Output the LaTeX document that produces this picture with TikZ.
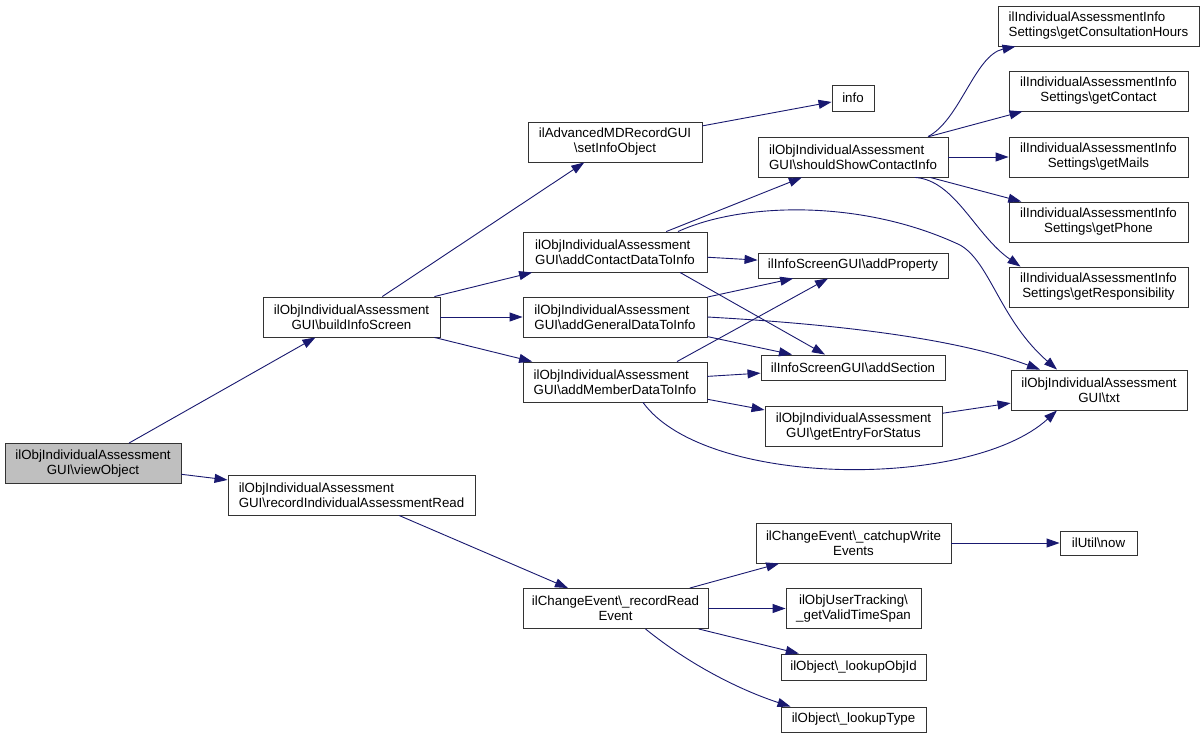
\documentclass[tikz,border=0pt]{standalone}
\usepackage{fontspec}
\setmainfont{Liberation Sans}
\usetikzlibrary{arrows.meta}
\definecolor{edgeblue}{RGB}{25,25,112}
\definecolor{curgray}{RGB}{191,191,191}
\newcommand{\bs}{\textbackslash}
\begin{document}
\begin{tikzpicture}[x=1pt,y=-1pt,
  fn/.style={draw=black!80, line width=0.9pt, fill=white, inner sep=0pt, minimum height=40,
    font=\fontsize{13.3}{15}\selectfont, align=center},
  fnl/.style={fn, align=left},
  fnone/.style={fn, minimum height=25},
  call/.style={draw=edgeblue, line width=0.9pt, -{Triangle[length=13pt,width=9pt]}}]
\path[use as bounding box, fill=white] (0,0) rectangle (1204,737);
% callers
\node[fn, fill=curgray, minimum width=176] (vo) at (93,463.5) {ilObjIndividualAssessment\\GUI\bs viewObject};
\node[fn, minimum width=177] (bis) at (351.5,317) {ilObjIndividualAssessment\\GUI\bs buildInfoScreen};
\node[fnl, minimum width=247] (rar) at (351.5,495) {ilObjIndividualAssessment\\GUI\bs recordIndividualAssessmentRead};
% third column
\node[fn, minimum width=174] (sio) at (615,142) {ilAdvancedMDRecordGUI\\\bs setInfoObject};
\node[fnl, minimum width=184] (acd) at (615,252) {ilObjIndividualAssessment\\GUI\bs addContactDataToInfo};
\node[fnl, minimum width=184] (agd) at (615,317) {ilObjIndividualAssessment\\GUI\bs addGeneralDataToInfo};
\node[fnl, minimum width=184] (amd) at (615,382) {ilObjIndividualAssessment\\GUI\bs addMemberDataToInfo};
\node[fn, minimum width=185] (rre) at (615.5,608.5) {ilChangeEvent\bs\_recordRead\\Event};
% fourth column
\node[fnone, minimum width=42, minimum height=26] (info) at (853,98) {info};
\node[fnl, minimum width=190] (ssci) at (853,157) {ilObjIndividualAssessment\\GUI\bs shouldShowContactInfo};
\node[fnone, minimum width=190] (aprop) at (853,265.5) {ilInfoScreenGUI\bs addProperty};
\node[fnone, minimum width=184] (asec) at (853,367.5) {ilInfoScreenGUI\bs addSection};
\node[fn, minimum width=177] (gefs) at (853.5,426.5) {ilObjIndividualAssessment\\GUI\bs getEntryForStatus};
\node[fn, minimum width=195] (cwe) at (853.5,543) {ilChangeEvent\bs\_catchupWrite\\Events};
\node[fn, minimum width=135] (gvts) at (853.5,608.5) {ilObjUserTracking\bs\\\_getValidTimeSpan};
\node[fnone, minimum width=145, minimum height=26] (loid) at (853.5,667) {ilObject\bs\_lookupObjId};
\node[fnone, minimum width=145] (lty) at (853.5,719.5) {ilObject\bs\_lookupType};
% last column
\node[fnl, minimum width=201] (gch) at (1098.5,26) {ilIndividualAssessmentInfo\\Settings\bs getConsultationHours};
\node[fn, minimum width=179] (gct) at (1098.5,91) {ilIndividualAssessmentInfo\\Settings\bs getContact};
\node[fn, minimum width=179] (gml) at (1098.5,157) {ilIndividualAssessmentInfo\\Settings\bs getMails};
\node[fn, minimum width=179] (gph) at (1098.5,222) {ilIndividualAssessmentInfo\\Settings\bs getPhone};
\node[fn, minimum width=179] (grs) at (1098.5,287) {ilIndividualAssessmentInfo\\Settings\bs getResponsibility};
\node[fn, minimum width=176] (txt) at (1099,390) {ilObjIndividualAssessment\\GUI\bs txt};
\node[fnone, minimum width=77, minimum height=24] (now) at (1098.5,543) {ilUtil\bs now};
% straight calls
\foreach \a/\b in {vo/bis, vo/rar, bis/sio, bis/acd, bis/agd, bis/amd, sio/info, acd/ssci, acd/aprop,
  agd/aprop, agd/asec, amd/asec, amd/gefs, gefs/txt, ssci/gct, ssci/gml, ssci/gph,
  rar/rre, rre/cwe, rre/gvts, rre/loid, cwe/now}
  \draw[call] (\a) -- (\b);
\draw[call] ([xshift=65]acd.south) -- ([xshift=-28]asec.north);
\draw[call] ([xshift=62]amd.north) -- ([xshift=-25]aprop.south);
% curved calls
\draw[call] ([xshift=63]acd.north) .. controls (740,203) and (860,198) .. (960,245)
  .. controls (990,262) and (1000,320) .. ([xshift=-42]txt.north);
\draw[call] (agd.east) .. controls (850,325) and (960,340) .. ([xshift=-59]txt.north);
\draw[call] ([xshift=28]amd.south) .. controls (705,488) and (970,490) .. ([xshift=-42]txt.south);
\draw[call] ([xshift=75]ssci.north) .. controls (960,120) and (975,55) .. ([xshift=-83]gch.south);
\draw[call] ([xshift=62]ssci.south) .. controls (955,180) and (975,235) .. ([xshift=-78]grs.north);
\draw[call] ([xshift=30]rre.south) .. controls (690,665) and (740,690) .. ([xshift=-63]lty.north);
\end{tikzpicture}
\end{document}
